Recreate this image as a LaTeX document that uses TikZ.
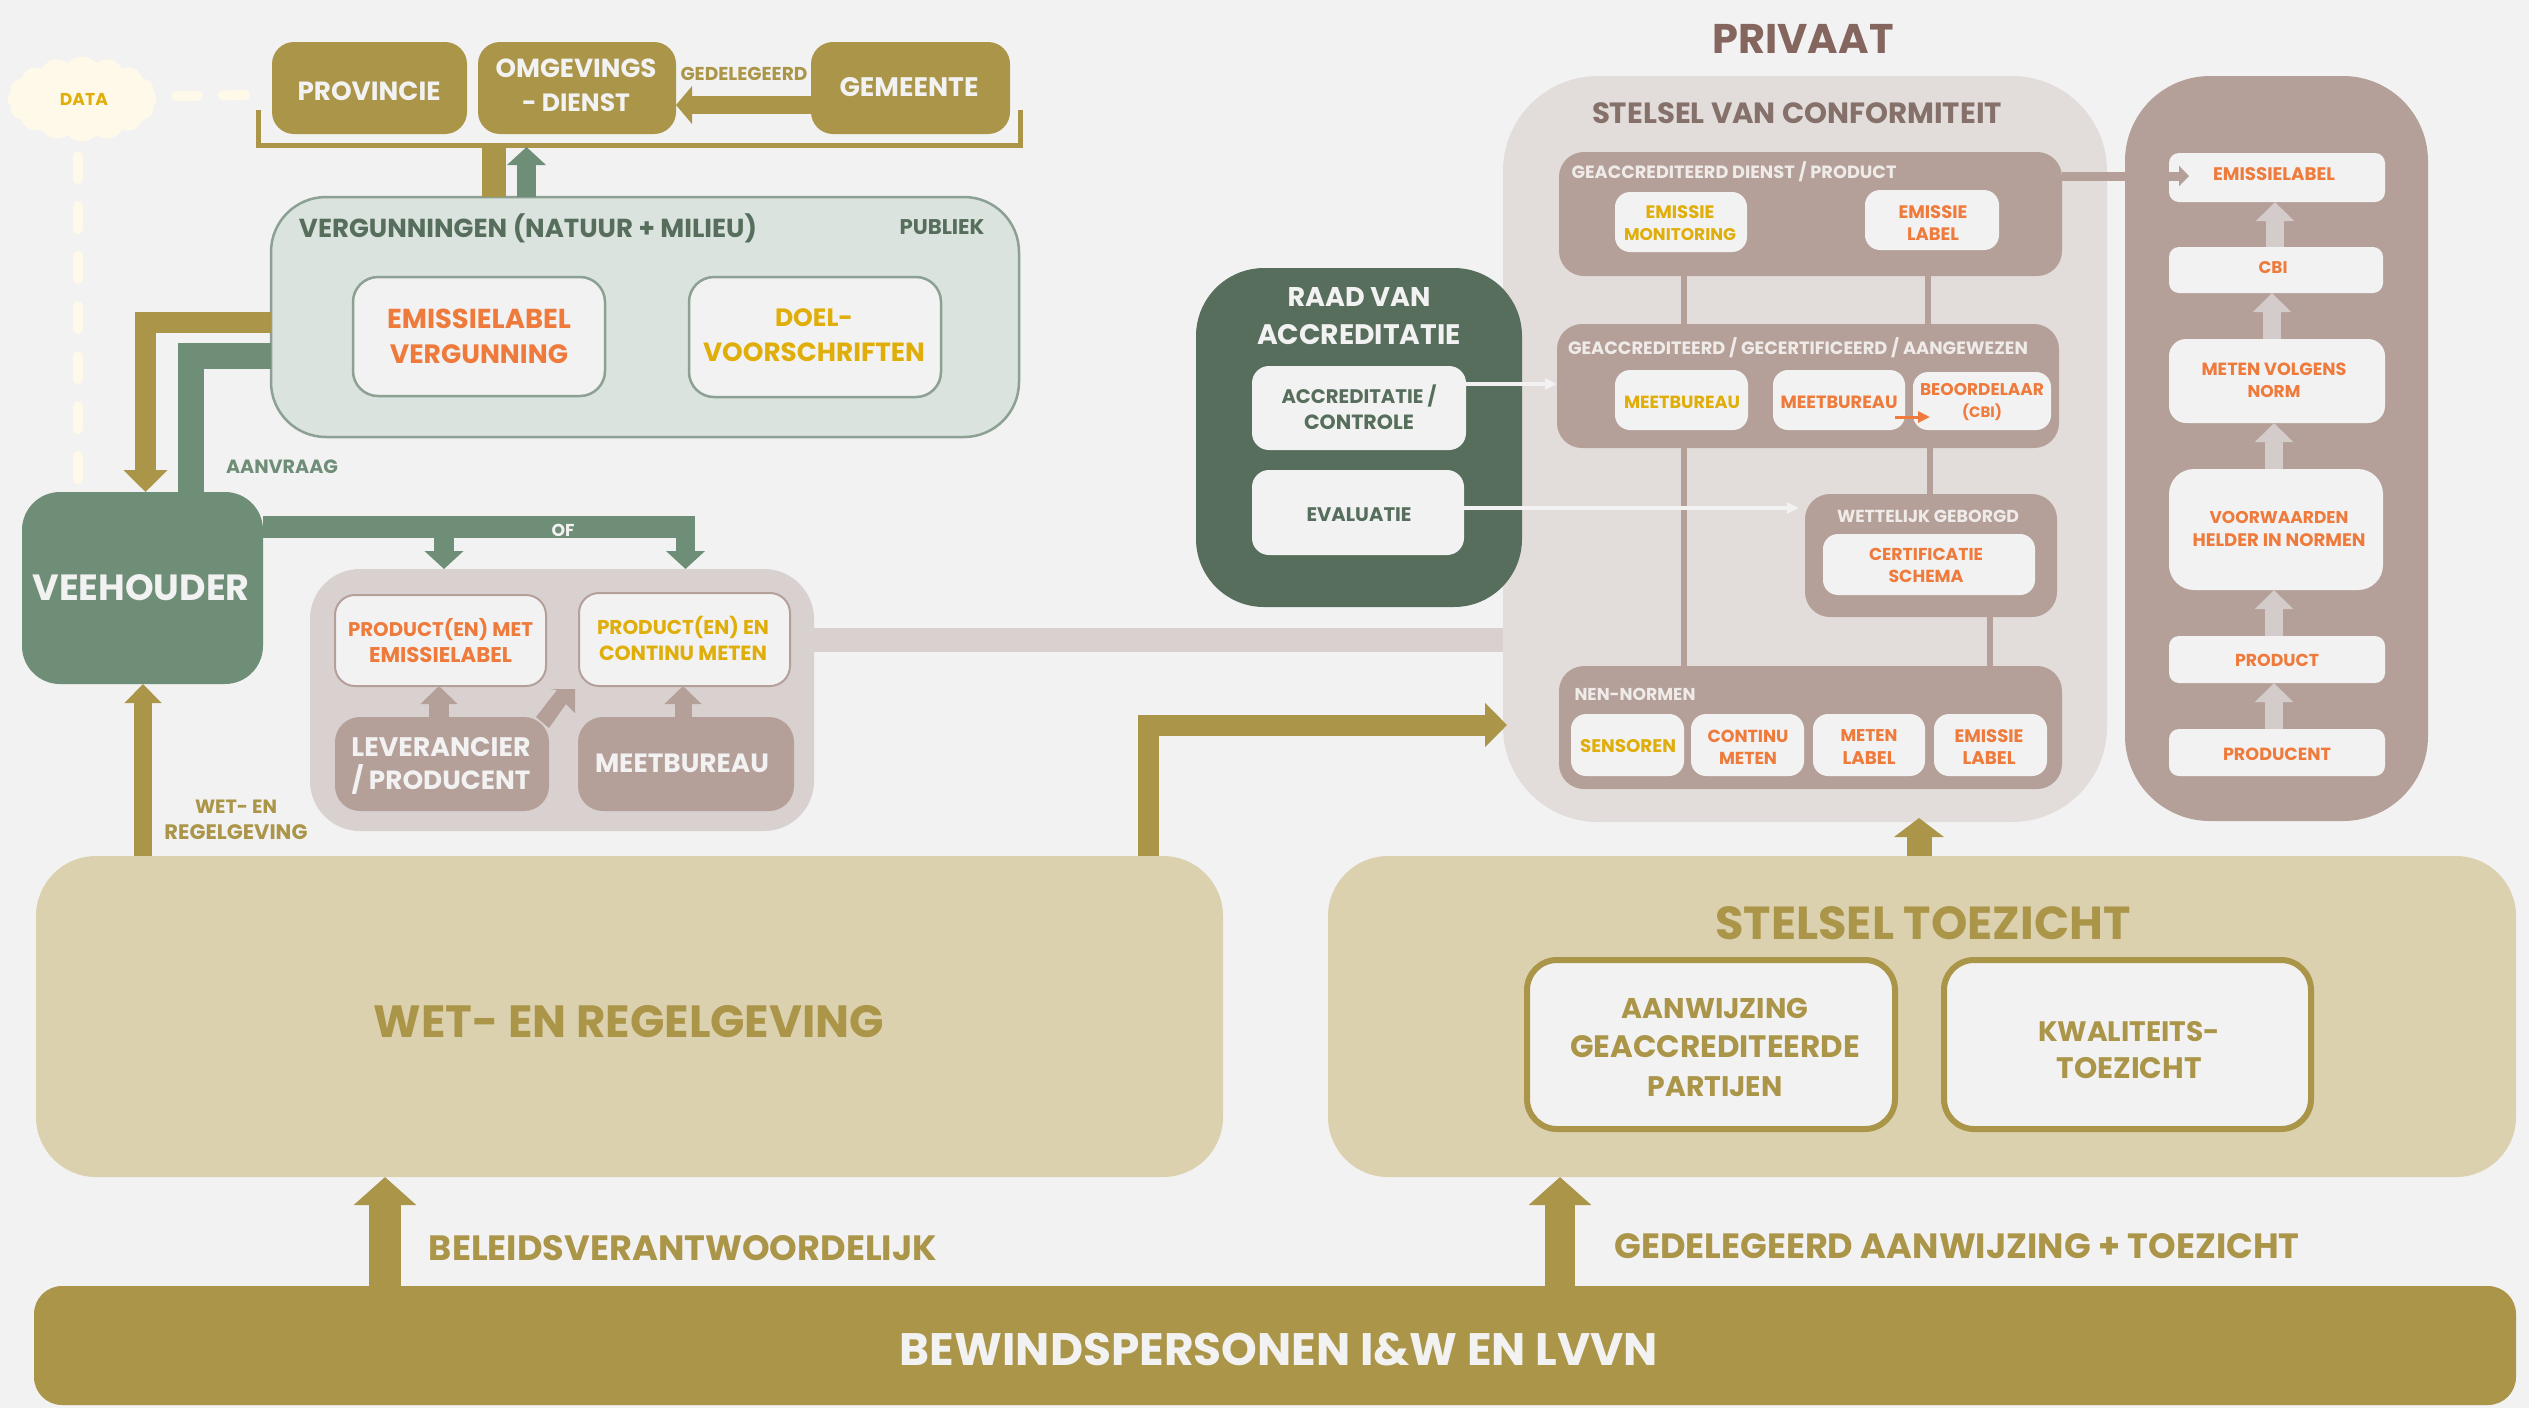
\documentclass[tikz,border=0pt]{standalone}
\usepackage{graphicx}
\usepackage{fontspec}
\setmainfont{Poppins}
\usetikzlibrary{arrows.meta,shapes.symbols,calc}
\definecolor{bgc}{HTML}{F2F2F2}
\definecolor{gold}{HTML}{AB9549}
\definecolor{sand}{HTML}{DBD1AE}
\definecolor{sage}{HTML}{6F8E78}
\definecolor{darksage}{HTML}{566E5B}
\definecolor{palesage}{HTML}{DAE3DE}
\definecolor{edgesage}{HTML}{8CA093}
\definecolor{taupe}{HTML}{B5A099}
\definecolor{paletaupe}{HTML}{D9D1D0}
\definecolor{mist}{HTML}{E2DDDA}
\definecolor{arrowpale}{HTML}{D4CCCA}
\definecolor{orangec}{HTML}{EE7A3C}
\definecolor{yellowc}{HTML}{E0AE0A}
\definecolor{brownc}{HTML}{85665E}
\definecolor{browntext}{HTML}{85706A}
\definecolor{softwhite}{HTML}{EFEBE8}
\definecolor{cream}{HTML}{FFF9EA}
\newlength\lu
\setlength\lu{0.01cm}
\newcommand\LN[2]{\resizebox{#1\lu}{!}{#2}}
\newcommand\RB[7]{\node[#6,minimum width={(#4-#2)*0.01cm},minimum height={(#5-#3)*0.01cm}] (#1) at ({(#2+#4)/2},{(#3+#5)/2}) {#7};}
\newcommand\TX[5]{\node[tx,#4] (#1) at (#2,#3) {#5};}
\tikzset{
  tx/.style={inner sep=0pt,outer sep=0pt,align=center,font=\fontsize{10}{10}\selectfont\bfseries},
  ls/.style={font=\fontsize{10}{#1}\selectfont\bfseries},
  box/.style={rectangle,inner sep=0pt,outer sep=0pt,align=center,font=\fontsize{10}{10}\selectfont\bfseries},
  goldbox/.style={box,fill=gold,text=bgc,rounded corners=0.22cm},
  sandbox/.style={box,fill=sand,rounded corners=0.6cm},
  tanbox/.style={box,fill=taupe,text=softwhite,rounded corners=0.25cm},
  panel/.style={box,fill=bgc,rounded corners=0.15cm},
  fatgold/.style={gold,line width=.21cm,-{Triangle[length=.22cm,width=.43cm]}},
  updark/.style={sage,line width=.2cm,-{Triangle[length=.18cm,width=.38cm]}},
  uptan/.style={taupe,line width=.19cm,-{Triangle[length=.18cm,width=.36cm]}},
  uppale/.style={arrowpale,line width=.18cm,-{Triangle[length=.19cm,width=.37cm]}},
  thinwhite/.style={bgc,line width=.04cm,-{Triangle[length=.12cm,width=.11cm]}},
  link/.style={taupe,line width=.06cm},
}
\begin{document}
\begin{tikzpicture}[x=0.01cm,y=-0.01cm]
\useasboundingbox (0,0) rectangle (2529,1408);
\fill[bgc] (0,0) rectangle (2529,1408);

% --- public, top row
\RB{prov}{272}{42}{467}{134}{goldbox}{}
\TX{provt}{369}{91}{text=bgc}{\LN{143}{PROVINCIE}}
\RB{omg}{478}{42}{676}{134}{goldbox}{}
\TX{omgt}{576}{85}{text=bgc,ls=9.6}{\LN{161}{OMGEVINGS}\\\LN{108}{- DIENST}}
\RB{gem}{811}{42}{1010}{134}{goldbox}{}
\TX{gemt}{909}{87}{text=bgc}{\LN{139}{GEMEENTE}}
\TX{gedel}{744}{74}{text=gold}{\LN{127}{GEDELEGEERD}}
\draw[gold,line width=.18cm,-{Triangle[length=.16cm,width=.37cm]}] (gem.west |- 0,105) -- (omg.east |- 0,105);
\draw[gold,line width=.05cm,line join=miter] (258,110) -- (258,145) -- (1020,145) -- (1020,110);

% --- vergunningen
\RB{verg}{271}{197}{1019}{437}{box,fill=palesage,draw=edgesage,line width=.025cm,rounded corners=.55cm}{}
\TX{vergt}{528}{228}{text=darksage}{\LN{458}{VERGUNNINGEN (NATUUR + MILIEU)}}
\TX{publ}{942}{227}{text=darksage}{\LN{85}{PUBLIEK}}
\RB{emv}{353}{277}{605}{396}{panel,draw=edgesage,line width=.025cm,rounded corners=.25cm,text=orangec,ls=9.9}{\LN{184}{EMISSIELABEL}\\\LN{178}{VERGUNNING}}
\RB{doel}{689}{277}{941}{397}{panel,draw=edgesage,line width=.025cm,rounded corners=.25cm}{}
\TX{doelt}{814}{335}{text=yellowc,ls=9.9}{\LN{78}{DOEL-}\\\LN{222}{VOORSCHRIFTEN}}
\draw[gold,line width=.24cm] (494,0 |- verg.north) -- (494,145);
\draw[updark,line width=.19cm] (526.5,0 |- verg.north) -- (526.5,147);

% --- data
\node[cloud,cloud puffs=16,cloud puff arc=100,aspect=1.75,fill=cream,inner sep=0pt,minimum width=1.49cm,minimum height=.85cm] (data) at (82,99) {};
\TX{datat}{84}{99}{text=yellowc}{\LN{48}{DATA}}
\coordinate (dh) at (248,95);
\coordinate (dv) at (78,486);
\draw[cream,line width=.1cm,line cap=round,dash pattern=on .22cm off .25cm] (176,96) -- (dh);
\draw[cream,line width=.1cm,line cap=round,dash pattern=on .23cm off .27cm] (78,156) -- (dv);

% --- veehouder
\RB{vee}{22}{492}{263}{684}{box,fill=sage,rounded corners=.38cm}{}
\TX{veet}{141}{588}{text=bgc}{\LN{217}{VEEHOUDER}}
\draw[fatgold] (verg.west |- 0,322.5) -| (145.5,0 |- vee.north);
\draw[sage,line width=.26cm] (verg.west |- 0,355.5) -| (191,0 |- vee.north);
\TX{aanv}{282}{467}{text=sage}{\LN{112}{AANVRAAG}}

% --- producten
\RB{grp}{310}{569}{814}{831}{box,fill=paletaupe,rounded corners=.5cm}{}
\draw[sage,line width=.22cm] (vee.east |- 0,527) -- (695,527);
\draw[updark,line width=.2cm,shorten <=-.11cm] (444,527) -- (444,0 |- grp.north);
\draw[updark,line width=.19cm] (685.5,516) -- (685.5,0 |- grp.north);
\TX{of}{563}{530}{text=bgc}{\LN{23}{OF}}
\RB{pe}{335}{595}{546}{686}{panel,draw=taupe,line width=.02cm,rounded corners=.2cm,text=orangec,ls=7.4}{\LN{185}{PRODUCT(EN) MET}\\\LN{143}{EMISSIELABEL}}
\RB{pc}{579}{593}{790}{686}{panel,draw=taupe,line width=.02cm,rounded corners=.2cm}{}
\TX{pct}{683}{638}{text=yellowc,ls=7.4}{\LN{172}{PRODUCT(EN) EN}\\\LN{168}{CONTINU METEN}}
\RB{lev}{335}{717}{549}{811}{tanbox}{}
\TX{levt}{441}{766}{text=bgc,ls=9.6}{\LN{179}{LEVERANCIER}\\\LN{179}{/ PRODUCENT}}
\RB{mb}{578}{717}{794}{811}{tanbox}{}
\TX{mbt}{682}{763}{text=bgc}{\LN{174}{MEETBUREAU}}
\draw[uptan] (439,0 |- lev.north) -- (439,0 |- pe.south);
\draw[uptan,line width=.17cm] (683,0 |- mb.north) -- (683,0 |- pc.south);
\fill[taupe] (536,717) -- (557,690) -- (549,689) -- (575,689) -- (575,713) -- (566,704) -- (549,728) -- cycle;
\TX{wetlab}{236}{820}{text=gold,ls=7.4}{\LN{82}{WET- EN}\\\LN{143}{REGELGEVING}}

% --- stelsel (private)
\TX{priv}{1803}{39}{text=brownc}{\LN{181}{PRIVAAT}}
\RB{st}{1503}{76}{2107}{822}{box,fill=mist,rounded corners=.95cm}{}
\draw[paletaupe,line width=.24cm] (grp.east |- 0,640) -- (st.west |- 0,640);
\TX{stt}{1797}{113}{text=browntext}{\LN{410}{STELSEL VAN CONFORMITEIT}}
\RB{gone}{1559}{152}{2062}{276}{tanbox}{}
\RB{gtwo}{1557}{324}{2059}{448}{tanbox}{}
\RB{wett}{1805}{494}{2057}{617}{tanbox}{}
\RB{nen}{1559}{666}{2062}{789}{tanbox}{}
\draw[link] (1684,0 |- gone.south) -- (1684,0 |- gtwo.north);
\draw[link] (1928,0 |- gone.south) -- (1928,0 |- gtwo.north);
\draw[link] (1684,0 |- gtwo.south) -- (1684,0 |- nen.north);
\draw[link] (1930,0 |- gtwo.south) -- (1930,0 |- wett.north);
\draw[link] (1990,0 |- wett.south) -- (1990,0 |- nen.north);
\TX{gonet}{1734}{172}{text=softwhite}{\LN{325}{GEACCREDITEERD DIENST / PRODUCT}}
\RB{em}{1615}{192}{1747}{252}{panel}{}
\TX{emt}{1680}{223}{text=yellowc,ls=6.3}{\LN{69}{EMISSIE}\\\LN{112}{MONITORING}}
\RB{el}{1865}{190}{1999}{250}{panel}{}
\TX{elt}{1933}{223}{text=orangec,ls=6.3}{\LN{69}{EMISSIE}\\\LN{52}{LABEL}}
\TX{gtwot}{1798}{348}{text=softwhite}{\LN{460}{GEACCREDITEERD / GECERTIFICEERD / AANGEWEZEN}}
\RB{mba}{1615}{370}{1748}{430}{panel}{}
\TX{mbat}{1682}{402}{text=yellowc}{\LN{116}{MEETBUREAU}}
\RB{mbb}{1773}{370}{1905}{430}{panel}{}
\TX{mbbt}{1839}{402}{text=orangec}{\LN{117}{MEETBUREAU}}
\RB{beo}{1913}{372}{2051}{430}{panel}{}
\TX{beot}{1982}{402}{text=orangec,ls=6.3}{\LN{124}{BEOORDELAAR}\\\LN{40}{(CBI)}}
\draw[orangec,line width=.03cm,-{Triangle[length=.12cm,width=.11cm]}] ([xshift=-.1cm]mbb.east |- 0,417) -- ([xshift=.17cm]beo.west |- 0,417);
\TX{wettt}{1928}{516}{text=softwhite}{\LN{182}{WETTELIJK GEBORGD}}
\RB{cert}{1823}{534}{2035}{595}{panel}{}
\TX{certt}{1926}{565}{text=orangec,ls=6.3}{\LN{114}{CERTIFICATIE}\\\LN{75}{SCHEMA}}
\TX{nent}{1635}{694}{text=softwhite}{\LN{121}{NEN-NORMEN}}
\RB{sen}{1571}{714}{1684}{776}{panel}{}
\TX{sent}{1628}{746}{text=yellowc}{\LN{96}{SENSOREN}}
\RB{con}{1691}{714}{1804}{776}{panel}{}
\TX{cont}{1748}{747}{text=orangec,ls=6.3}{\LN{81}{CONTINU}\\\LN{58}{METEN}}
\RB{met}{1813}{714}{1925}{776}{panel}{}
\TX{mett}{1869}{747}{text=orangec,ls=6.3}{\LN{57}{METEN}\\\LN{53}{LABEL}}
\RB{eml}{1934}{714}{2047}{776}{panel}{}
\TX{emlt}{1989}{747}{text=orangec,ls=6.3}{\LN{69}{EMISSIE}\\\LN{53}{LABEL}}

% --- raad
\RB{raad}{1196}{268}{1522}{607}{box,fill=darksage,rounded corners=.68cm}{}
\TX{raadt}{1359}{316}{text=bgc,ls=10.6}{\LN{143}{RAAD VAN}\\\LN{204}{ACCREDITATIE}}
\RB{acc}{1252}{366}{1466}{450}{panel,rounded corners=.17cm}{}
\TX{acct}{1359}{407}{text=darksage,ls=7.4}{\LN{155}{ACCREDITATIE /}\\\LN{110}{CONTROLE}}
\RB{eva}{1252}{470}{1464}{555}{panel,rounded corners=.17cm}{}
\TX{evat}{1359}{515}{text=darksage}{\LN{105}{EVALUATIE}}
\draw[thinwhite] (acc.east |- 0,384) -- (gtwo.west |- 0,384);
\draw[thinwhite,shorten >=.06cm] (eva.east |- 0,508) -- (wett.west |- 0,508);

% --- right column
\RB{rc}{2125}{76}{2428}{821}{box,fill=taupe,rounded corners=.85cm}{}
\RB{ra}{2169}{153}{2385}{202}{panel,rounded corners=.1cm}{}
\TX{rat}{2274}{174}{text=orangec}{\LN{122}{EMISSIELABEL}}
\RB{rb}{2169}{247}{2383}{293}{panel,rounded corners=.1cm}{}
\TX{rbt}{2273}{268}{text=orangec}{\LN{29}{CBI}}
\RB{rcc}{2169}{339}{2385}{423}{panel,rounded corners=.17cm}{}
\TX{rcct}{2274}{380}{text=orangec,ls=6.3}{\LN{145}{METEN VOLGENS}\\\LN{53}{NORM}}
\RB{rd}{2169}{469}{2383}{590}{panel,rounded corners=.25cm}{}
\TX{rdt}{2279}{529}{text=orangec,ls=6.3}{\LN{139}{VOORWAARDEN}\\\LN{173}{HELDER IN NORMEN}}
\RB{re}{2169}{636}{2385}{683}{panel,rounded corners=.1cm}{}
\TX{ret}{2277}{660}{text=orangec}{\LN{84}{PRODUCT}}
\RB{rf}{2169}{729}{2385}{776}{panel,rounded corners=.1cm}{}
\TX{rft}{2277}{754}{text=orangec}{\LN{108}{PRODUCENT}}
\draw[uppale] (2275,0 |- rb.north) -- (2275,0 |- ra.south);
\draw[uppale] (2272,0 |- rcc.north) -- (2272,0 |- rb.south);
\draw[uppale] (2274,0 |- rd.north) -- (2274,0 |- rcc.south);
\draw[uppale] (2274,0 |- re.north) -- (2274,0 |- rd.south);
\draw[uppale] (2274,0 |- rf.north) -- (2274,0 |- re.south);
\draw[taupe,line width=.09cm,-{Triangle[length=.1cm,width=.2cm]}] (gone.east |- 0,176) -- (2189,176);

% --- sand blocks
\RB{wet}{36}{856}{1223}{1177}{sandbox}{}
\TX{wett2}{629}{1022}{text=gold}{\LN{510}{WET- EN REGELGEVING}}
\RB{toe}{1328}{856}{2516}{1177}{sandbox}{}
\TX{toet}{1923}{923}{text=gold}{\LN{415}{STELSEL TOEZICHT}}
\RB{aan}{1527}{960}{1895}{1129}{panel,draw=gold,line width=.06cm,rounded corners=.3cm}{}
\TX{aant}{1715}{1047}{text=gold,ls=11.1}{\LN{187}{AANWIJZING}\\\LN{290}{GEACCREDITEERDE}\\\LN{135}{PARTIJEN}}
\RB{kwa}{1944}{960}{2311}{1129}{panel,draw=gold,line width=.06cm,rounded corners=.3cm}{}
\TX{kwat}{2129}{1050}{text=gold,ls=10.5}{\LN{182}{KWALITEITS-}\\\LN{145}{TOEZICHT}}
\draw[gold,line width=.18cm,-{Triangle[length=.19cm,width=.36cm]}] (143,0 |- wet.north) -- (143,0 |- vee.south);
\draw[fatgold,rounded corners=0pt,shorten >=-.04cm] (1148,0 |- wet.north) |- (st.west |- 0,725);
\draw[gold,line width=.25cm,-{Triangle[length=.19cm,width=.49cm]}] (1919,0 |- toe.north) -- (1919,818);

\RB{bew}{34}{1286}{2516}{1405}{box,fill=gold,rounded corners=.28cm}{}
\TX{bewt}{1279}{1349}{text=bgc}{\LN{758}{BEWINDSPERSONEN I\&W EN LVVN}}
\draw[gold,line width=.31cm,-{Triangle[length=.28cm,width=.61cm]}] (385,0 |- bew.north) -- (385,0 |- wet.south);
\draw[gold,line width=.3cm,-{Triangle[length=.28cm,width=.61cm]}] (1560,0 |- bew.north) -- (1560,0 |- toe.south);
\TX{bel}{683}{1248}{text=gold}{\LN{508}{BELEIDSVERANTWOORDELIJK}}
\TX{gedl}{1957}{1246}{text=gold}{\LN{685}{GEDELEGEERD AANWIJZING + TOEZICHT}}
\end{tikzpicture}
\end{document}
